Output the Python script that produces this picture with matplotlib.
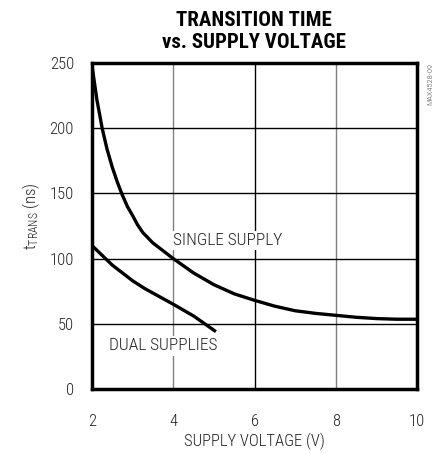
import matplotlib
matplotlib.use("Agg")
import matplotlib.pyplot as plt

FAM = ['Roboto Condensed', 'DejaVu Sans']
plt.rcParams['font.family'] = FAM
plt.rcParams['font.weight'] = 300
plt.rcParams['mathtext.fontset'] = 'custom'
plt.rcParams['mathtext.rm'] = 'Roboto Condensed:light'
plt.rcParams['mathtext.default'] = 'regular'

single_v = [2.0, 2.12, 2.25, 2.37, 2.5, 2.62, 2.73, 2.87, 3.0, 3.12, 3.25, 3.5, 3.75, 4.0, 4.5, 5.0, 5.5, 6.0, 6.5, 7.0, 7.5, 8.0, 8.5, 9.0, 9.5, 10.0]
single_t = [248, 222, 200, 184, 170, 159, 150, 140, 133, 126, 120, 112, 106, 100, 89, 80, 73, 68, 63.5, 60, 58, 56.5, 55, 54, 53.5, 53.5]
dual_v = [2.0, 2.5, 3.0, 3.3, 4.0, 4.5, 5.05]
dual_t = [110, 95, 83, 77, 65, 56, 44]
xticks = [2, 4, 6, 8, 10]
yticks = [0, 50, 100, 150, 200, 250]

TXT = '#222222'
fig = plt.figure(figsize=(4.41, 4.54), dpi=100)
ax = fig.add_axes([0.2086, 0.1432, 0.737, 0.718])
ax.set_xlim(2, 10)
ax.set_ylim(0, 250)

for v, c in [(4, '#808080'), (6, 'black'), (8, '#808080')]:
    ax.axvline(v, color=c, lw=1.0, zorder=1)
for t in [50, 100, 150, 200]:
    ax.axhline(t, color='black', lw=1.0, zorder=1)

ax.plot(single_v, single_t, color='black', lw=2.4, zorder=3, solid_capstyle='butt')
ax.plot(dual_v, dual_t, color='black', lw=2.4, zorder=3, solid_capstyle='butt')

ax.text(4.0, 114, "SINGLE SUPPLY", fontsize=12.5, color=TXT, va='center', ha='left',
        bbox=dict(facecolor='white', edgecolor='none', pad=1.5), zorder=2)
ax.text(2.42, 33, "DUAL SUPPLIES", fontsize=12.5, color=TXT, va='center', ha='left',
        bbox=dict(facecolor='white', edgecolor='none', pad=1.5), zorder=2)

ax.set_xticks(xticks)
ax.set_yticks(yticks)
ax.tick_params(length=0, labelsize=12, labelcolor=TXT)
ax.tick_params(axis='x', pad=18)
ax.tick_params(axis='y', pad=13)
for s in ax.spines.values():
    s.set_linewidth(2.5)
    s.set_zorder(4)

ax.set_xlabel("SUPPLY VOLTAGE (V)", fontsize=12, color=TXT, fontweight=300)
ax.xaxis.set_label_coords(0.5, -0.133)
ax.set_ylabel("t$_{TRANS}$ (ns)", fontsize=12, color=TXT, fontweight=300)
ax.yaxis.set_label_coords(-0.153, 0.53)

fig.text(0.575, 0.975, "TRANSITION TIME\nvs. SUPPLY VOLTAGE", ha='center', va='top',
         fontsize=15, fontweight='bold', linespacing=1.15, color='black')
fig.text(0.975, 0.862, "MAX4528-09", rotation=90, ha='center', va='top', fontsize=6, color='#555555')

fig.savefig("out.png", dpi=100)
